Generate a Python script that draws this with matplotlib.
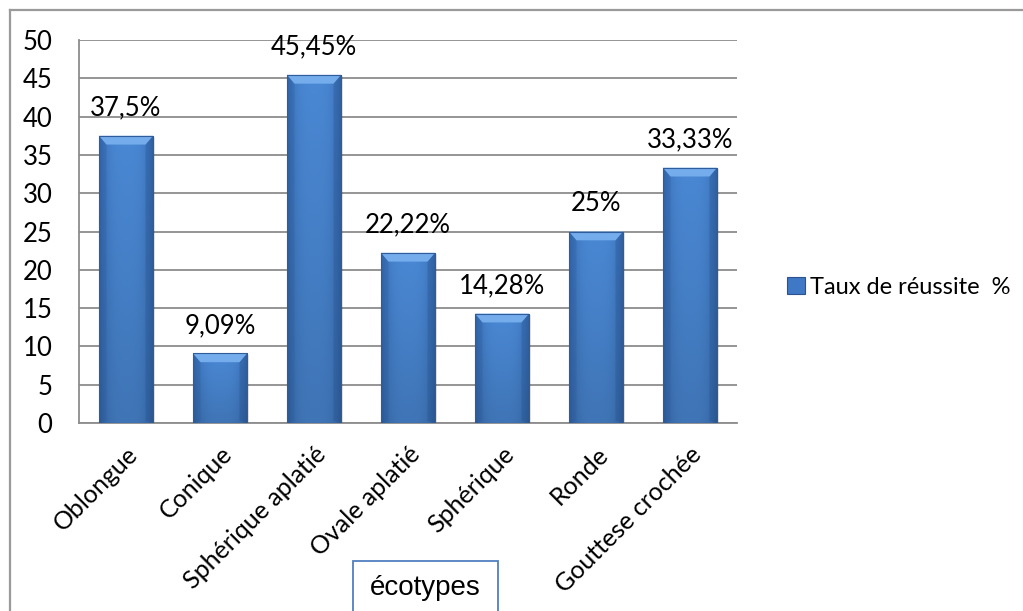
import numpy as np
import matplotlib
matplotlib.use("Agg")
import matplotlib.pyplot as plt
from matplotlib.patches import Rectangle, Polygon, Patch
from matplotlib.colors import to_rgb

# Data
categories = ["Oblongue", "Conique", "Sphérique aplatié", "Ovale aplatié",
              "Sphérique", "Ronde", "Gouttese crochée"]
taux = [37.5, 9.09, 45.45, 22.22, 14.28, 25, 33.33]
labels = ["37,5%", "9,09%", "45,45%", "22,22%", "14,28%", "25%", "33,33%"]
yticks = [0, 5, 10, 15, 20, 25, 30, 35, 40, 45, 50]
series_name = "Taux de réussite  %"
axis_title = "écotypes"

FONT = ["Lato", "DejaVu Sans"]
W, H = 1023, 611

fig = plt.figure(figsize=(W / 100, H / 100), dpi=100)
fig.patch.set_facecolor("white")

# plot area in pixel terms
x0, x1, ytop, ybot = 79, 737, 40, 423
ax = fig.add_axes([x0 / W, 1 - ybot / H, (x1 - x0) / W, (ybot - ytop) / H])

x = np.arange(len(categories))
bars = ax.bar(x, taux, width=0.575, color="#3d77c2", zorder=3, edgecolor="none")

ax.set_xlim(-0.5, len(categories) - 0.5)
ax.set_ylim(0, 50)
ax.set_yticks(yticks)
ax.yaxis.grid(True, color="#8c8c8c", linewidth=1.3, zorder=0)
ax.set_axisbelow(True)
for s in ["top", "right"]:
    ax.spines[s].set_visible(False)
for s in ["left", "bottom"]:
    ax.spines[s].set_color("#8c8c8c")
    ax.spines[s].set_linewidth(1.3)
ax.tick_params(axis="y", length=0, pad=19, labelsize=18.5)
for t in ax.get_yticklabels():
    t.set_family(FONT)
ax.set_xticks(x)
ax.set_xticklabels(categories, rotation=45, ha="right", rotation_mode="anchor",
                   fontsize=18, family=FONT)
ax.tick_params(axis="x", length=0, pad=14)

# bevelled gradient fill for each bar
edge = np.array(to_rgb("#3468ad"))
mid = np.array(to_rgb("#4a88d4"))
nx, ny = 60, 100
u = np.linspace(-1, 1, nx)
hprof = 1 - np.abs(u) ** 3
v = np.linspace(0, 1, ny)[:, None]  # 0 = bottom, 1 = top
img = edge[None, None, :] + (mid - edge)[None, None, :] * hprof[None, :, None]
img = img * (0.86 + 0.14 * v[:, :, None])
img = np.clip(img, 0, 1)

dx_bev = 0.08
dy_bev = 1.15
for b in bars:
    bx, by = b.get_x(), b.get_y()
    bw, bh = b.get_width(), b.get_height()
    # soft shadow
    sh = Rectangle((bx + 0.025, by), bw, bh - 0.2, facecolor="#000000",
                   alpha=0.10, edgecolor="none", zorder=2.5)
    ax.add_patch(sh)
    im = ax.imshow(img, extent=(bx, bx + bw, by, by + bh), origin="lower",
                   aspect="auto", zorder=3.2, interpolation="bilinear")
    im.set_clip_path(b)
    top = by + bh
    bev = min(dy_bev, bh * 0.3)
    ax.add_patch(Polygon([(bx, top), (bx + bw, top), (bx + bw - dx_bev, top - bev),
                          (bx + dx_bev, top - bev)], closed=True,
                         facecolor="#74acec", edgecolor="none", zorder=3.4))
    ax.add_patch(Polygon([(bx, top), (bx + dx_bev, top - bev), (bx + dx_bev, by + 0.3),
                          (bx, by)], closed=True, facecolor="#2a5796",
                         alpha=0.25, edgecolor="none", zorder=3.3))
    ax.add_patch(Polygon([(bx + bw, top), (bx + bw - dx_bev, top - bev),
                          (bx + bw - dx_bev, by + 0.3), (bx + bw, by)], closed=True,
                         facecolor="#244d86", alpha=0.3, edgecolor="none", zorder=3.3))
    ax.add_patch(Rectangle((bx, by), bw, bh, facecolor="none", edgecolor="#2f5c9a",
                           linewidth=0.8, zorder=3.5))

# value labels
for b, lab in zip(bars, labels):
    ax.annotate(lab, (b.get_x() + b.get_width() / 2, b.get_height()),
                xytext=(0, 11), textcoords="offset points", ha="center",
                va="bottom", fontsize=18.5, family=FONT, zorder=5)

# legend
handle = Patch(facecolor="#3f78c4", edgecolor="#2a5390", linewidth=0.8)
fig.legend([handle], [series_name], loc="center left",
           bbox_to_anchor=(778 / W, 1 - 287 / H), frameon=False,
           prop={"family": FONT, "size": 17}, handlelength=0.75,
           handleheight=0.75, handletextpad=0.2, borderaxespad=0)

# axis title in a framed box
fig.add_artist(Rectangle((353 / W, -0.05), (498 - 353) / W, (611 - 561) / H + 0.05,
                         transform=fig.transFigure, facecolor="white",
                         edgecolor="#4f7fbf", linewidth=1.3))
fig.text(425.5 / W, 1 - 588 / H, axis_title, ha="center", va="center",
         fontsize=20, family=["Liberation Sans Narrow", "Liberation Sans", "DejaVu Sans"])

# chart outer frame (top and left edges)
fig.add_artist(plt.Line2D([10 / W, 1.0], [1 - 10 / H, 1 - 10 / H],
                          transform=fig.transFigure, color="#9a9a9a", linewidth=1.6))
fig.add_artist(plt.Line2D([10 / W, 10 / W], [1 - 10 / H, 0.0],
                          transform=fig.transFigure, color="#9a9a9a", linewidth=1.6))

fig.savefig("out.png", dpi=100)
